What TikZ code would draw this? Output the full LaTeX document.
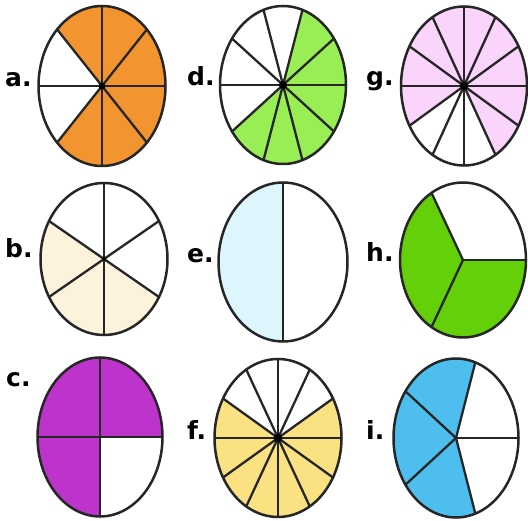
\documentclass[tikz,border=0pt]{standalone}
\usepackage{fontspec}
\setmainfont{DejaVu Sans}
\definecolor{cA}{RGB}{242,148,48}
\definecolor{cD}{RGB}{153,238,85}
\definecolor{cG}{RGB}{250,212,250}
\definecolor{cB}{RGB}{253,243,220}
\definecolor{cE}{RGB}{221,245,252}
\definecolor{cH}{RGB}{100,208,10}
\definecolor{cC}{RGB}{189,51,204}
\definecolor{cF}{RGB}{250,225,130}
\definecolor{cI}{RGB}{77,190,238}
\tikzset{
  lbl/.style={anchor=base west, inner sep=0pt, font=\bfseries\fontsize{25}{25}\selectfont},
  rim/.style={draw=black!85, line width=2.5pt},
  spoke/.style={draw=black!85, line width=2.3pt, line cap=round},
}
% #1 cx, #2 cy (pixel, y down), #3 rx, #4 ry, #5 n sectors, #6 colour, #7 shaded sector indices, #8 start angle offset
\newcommand{\mypie}[8]{%
  \begin{scope}[shift={(#1pt,{(520-#2)*1pt})}, x=#3pt, y=#4pt]
    \pgfmathsetmacro{\stp}{360/#5}
    \foreach \k in {#7} {
      \pgfmathsetmacro{\aa}{\k*\stp+#8}
      \pgfmathsetmacro{\bb}{(\k+1)*\stp+#8}
      \fill[#6] (0,0) -- plot[variable=\t, domain=\aa:\bb, samples=30] ({cos(\t)},{sin(\t)}) -- cycle;
    }
    \ifnum#5>1
    \foreach \k in {1,...,#5} {
      \pgfmathsetmacro{\aa}{(\k-1)*\stp+#8}
      \draw[spoke] (0,0) -- (\aa:1);
    }
    \fi
    \draw[rim] plot[variable=\t, domain=0:360, samples=121, smooth] ({cos(\t)},{sin(\t)}) -- cycle;
  \end{scope}
}
\begin{document}
\begin{tikzpicture}[x=1pt,y=1pt]
\useasboundingbox (0,0) rectangle (528,520);
\fill[white] (0,0) rectangle (528,520);
% row 1
\mypie{102}{86}{63.5}{80}{8}{cA}{0,1,2,5,6,7}{0}
\fill (102,434) circle[radius=3.5pt];
\mypie{283}{85}{63}{79}{10}{cD}{0,1,6,7,8,9}{0}
\fill (283,435) circle[radius=4pt];
\mypie{464}{86}{63}{79.5}{12}{cG}{0,1,2,3,4,5,6,10,11}{0}
\fill (464,434) circle[radius=4.2pt];
% row 2
\mypie{104}{259}{63.5}{76}{6}{cB}{2,3,4}{30}
\fill (104,261) circle[radius=2pt];
\mypie{283}{262}{64.5}{79.5}{2}{cE}{0}{90}
\mypie{463}{260}{63}{77.5}{3}{cH}{1,2}{0}
% row 3
\mypie{100}{437}{62.5}{79.5}{4}{cC}{0,1,2}{0}
\mypie{278}{438}{63.5}{79}{12}{cF}{0,5,6,7,8,9,10,11}{0}
\fill (278,82) circle[radius=4.2pt];
\mypie{456}{438}{62.5}{79.5}{5}{cI}{1,2,3}{0}
% labels
\node[lbl] (la) at (5,{520-87}) {a.};
\node[lbl] (ld) at (187,{520-86}) {d.};
\node[lbl] (lg) at (366,{520-86}) {g.};
\node[lbl] (lb) at (5,{520-258}) {b.};
\node[lbl] (le) at (187,{520-263}) {e.};
\node[lbl] (lh) at (366,{520-262}) {h.};
\node[lbl] (lc) at (6,{520-387}) {c.};
\node[lbl] (lf) at (187,{520-440}) {f.};
\node[lbl] (li) at (366,{520-440}) {i.};
\end{tikzpicture}
\end{document}
